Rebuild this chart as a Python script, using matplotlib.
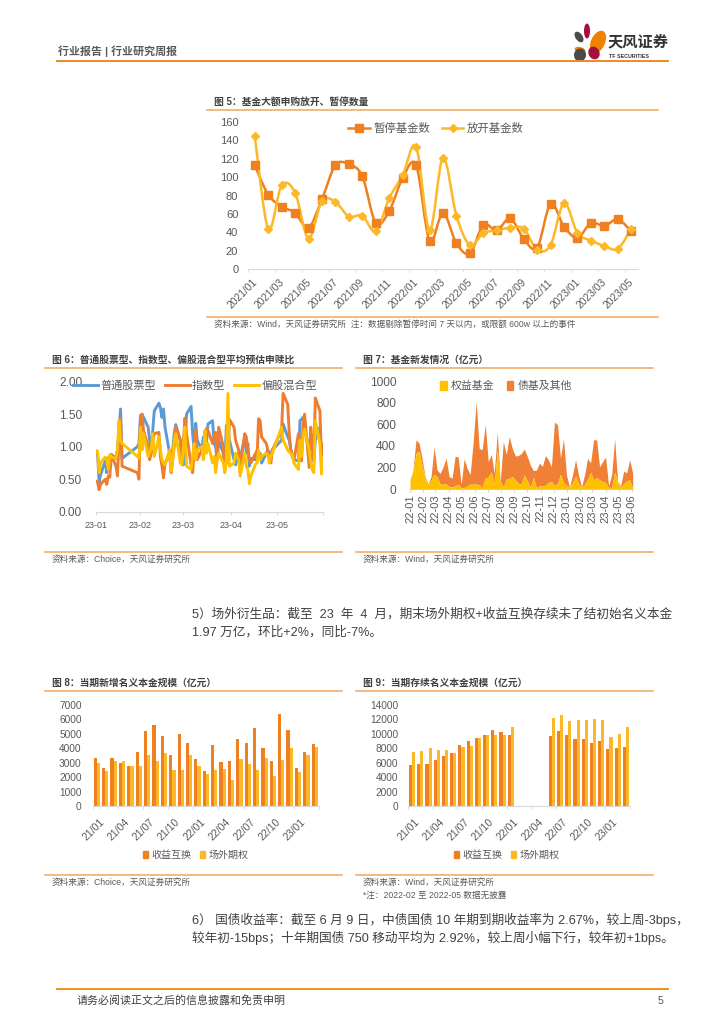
#!/usr/bin/env python3
"""Rebuild the report page with fund issuance and OTC derivative charts."""

import matplotlib
matplotlib.use('Agg')
import matplotlib.pyplot as plt
import numpy as np
import pandas as pd
from matplotlib.lines import Line2D
from matplotlib.patches import Ellipse, PathPatch, Rectangle
from matplotlib.path import Path

plt.rcParams['font.family'] = ['Liberation Sans', 'Noto Sans CJK SC', 'DejaVu Sans']

W, H = 724, 1024
GREY = '#595959'
RULE = '#F5A45D'
AXIS = '#D9D9D9'
ORANGE = '#F0801F'
AMBER = '#FDB827'

# Chart 5: monthly fund counts
months_5 = [f'{y}/{m:02d}' for y in (2021, 2022) for m in range(1, 13)] + [f'2023/{m:02d}' for m in range(1, 6)]
paused = [113, 81, 68, 61, 45, 76, 113, 114, 101, 50, 63, 99, 113, 31, 61, 28, 17, 48, 42, 55, 33, 23, 71, 46, 34, 50, 47, 54, 41]
reopened = [145, 44, 91, 83, 33, 74, 73, 57, 58, 41, 77, 102, 133, 42, 121, 58, 26, 39, 42, 45, 44, 21, 26, 72, 39, 31, 25, 22, 44]

# Chart 6: subscription/redemption ratio on trading days of 2023
days_6 = {
    1: [3, 4, 5, 6, 9, 10, 11, 12, 13, 16, 17, 18, 19, 20, 30, 31],
    2: [1, 2, 3, 6, 7, 8, 9, 10, 13, 14, 15, 16, 17, 20, 21, 22, 23, 24, 27, 28],
    3: [1, 2, 3, 6, 7, 8, 9, 10, 13, 14, 15, 16, 17, 20, 21, 22, 23, 24, 27, 28, 29, 30, 31],
    4: [3, 4, 6, 7, 10, 11, 12, 13, 14, 17, 18, 19, 20, 21, 24, 25, 26, 27, 28],
    5: [4, 5, 8, 9, 10, 11, 12, 15, 16, 17, 18, 19, 22, 23, 24, 25, 26, 29, 30, 31],
}
stock_ratio = [.88, .92, .45, .57, .78, .60, .83, .80, .88, .82, .95, 1.25, 1.58, .82, 1.00, 1.05,
               1.48, 1.50, 1.45, 1.30, 1.10, .90, 1.25, 1.55, 1.67, 1.60, 1.45, 1.58, 1.30, .90, .80, .95, 1.20, 1.34, 1.10, .85,
               .72, 1.00, 1.50, 1.62, 1.20, .95, 1.36, 1.10, .95, 1.15, 1.10, 1.05, 1.35, 1.40, 1.05, 1.00, .80, 1.10, .90, .70, 1.33, 1.25, 1.10,
               .80, .72, .90, .82, 1.15, .90, 1.05, .70, .82, .80, .95, .85, .90, .75, .90, .95, .85, .90, .95,
               1.10, 1.35, 1.15, 1.10, .95, .85, .80, .78, 1.40, 1.42, 1.45, 1.25, 1.00, .85, .80, .78, 1.10, 1.30, .90, .88]
index_ratio = [.47, .46, .34, .42, .50, .42, .55, .53, .88, .70, .55, 1.10, 1.44, .70, .60, .50,
               1.45, 1.50, 1.25, 1.00, .80, .90, 1.10, 1.20, 1.22, .85, .70, .52, .75, .88, .60, .80, 1.00, 1.30, 1.10, .75,
               1.10, 1.44, 1.20, .72, .60, .90, 1.25, .80, .95, 1.00, .90, 1.28, 1.25, 1.05, 1.15, 1.22, .80, 1.30, 1.00, .65, 1.00, .75, 1.42,
               1.30, 1.10, .95, .70, 1.20, 1.15, .95, .80, .75, .90, .80, 1.43, 1.40, 1.15, 1.05, .95, .85, .75, .95,
               1.25, 1.82, 1.65, 1.20, .95, .88, .78, 1.20, 1.10, .78, 1.35, 1.50, .68, 1.30, 1.05, .80, 1.75, 1.55, .80, 1.03]
mixed_ratio = [.94, .93, .60, .75, .84, .80, .65, .88, .84, .82, .95, 1.40, 1.10, 1.05, .85, .82,
               1.30, .95, 1.20, .85, .90, 1.00, 1.20, .85, 1.15, .95, .80, .75, .72, .95, .62, .80, 1.10, 1.20, .75, .72,
               1.00, 1.30, .70, .65, .85, 1.05, .80, .95, 1.00, .80, 1.25, .90, 1.05, .75, .85, .60, .80, .90, .75, .60, .80, 1.82, .70,
               .75, .90, .80, .55, .90, .70, .65, .43, .55, .73, .75, .95, .80, .85, .90, .88, .75, .85, .90,
               1.30, 1.10, .95, .92, .90, .88, .75, .65, 1.10, .85, 1.15, 1.27, .95, .75, .65, .60, 1.40, 1.05, .58, .84]
ticks_6 = ['2023-01-03', '2023-02-01', '2023-03-01', '2023-04-01', '2023-05-01', '2023-05-31']
labels_6 = ['23-01', '23-02', '23-03', '23-04', '23-05', '']

# Chart 7: weekly issuance, equity funds and the stacked total
equity_issue = [85, 160, 330, 350, 220, 100, 45, 85, 135, 115,
                45, 45, 50, 20, 20, 30, 45, 10, 15, 30,
                45, 45, 45, 40, 15, 105, 110, 160, 50, 360,
                70, 20, 90, 100, 115, 85, 50, 50, 130, 75,
                15, 110, 10, 30, 30, 35, 60, 70, 35, 50,
                135, 60, 35, 15, 60, 120, 50, 15, 40, 90,
                155, 85, 105, 85, 70, 60, 15, 15, 155, 70,
                15, 50, 75, 85, 5]
total_issue = [85, 175, 455, 425, 285, 115, 50, 115, 390, 175,
               145, 205, 285, 115, 100, 305, 295, 45, 280, 190,
               135, 440, 810, 375, 365, 600, 255, 320, 145, 525,
               70, 440, 320, 485, 375, 305, 310, 330, 370, 300,
               220, 170, 175, 240, 210, 310, 270, 205, 620, 595,
               285, 465, 130, 15, 130, 270, 130, 20, 130, 285,
               240, 455, 455, 205, 255, 295, 30, 130, 465, 70,
               30, 165, 150, 270, 145]
labels_7 = [f'22-{m:02d}' for m in range(1, 13)] + [f'23-{m:02d}' for m in range(1, 7)]

# Charts 8 and 9: monthly notional
months_8 = [f'{y}/{m:02d}' for y in (21, 22) for m in range(1, 13)] + ['23/01', '23/02', '23/03']
new_swap = [3300, 2650, 3330, 3000, 2780, 3760, 5230, 5600, 4850, 3550, 5020, 4350, 3250, 2450, 4230, 3020, 3100, 4620, 4400, 5400, 4050, 3130, 6350, 5250, 2600, 3720, 4300]
new_option = [3000, 2400, 3100, 3100, 2800, 2780, 3550, 3100, 3680, 2480, 2470, 3520, 2800, 2220, 2500, 2590, 1800, 3230, 2900, 2480, 3350, 2080, 3200, 4020, 2350, 3550, 4080]
live_swap = [5650, 5800, 5800, 6400, 6950, 7350, 8400, 9050, 9450, 9800, 10550, 10250, 9800, np.nan, np.nan, np.nan, np.nan, 9750, 10400, 9850, 9300, 9300, 8800, 8950, 7900, 8000, 8200]
live_option = [7450, 7600, 8050, 7750, 7750, 7350, 8150, 8300, 9450, 9800, 9850, 9850, 10950, np.nan, np.nan, np.nan, np.nan, 12200, 12600, 11800, 11950, 11950, 12100, 11900, 9600, 9950, 11000]


def px_axes(fig, left, top, right, bottom, y_pad):
    # axes placed by page pixels
    ax = fig.add_axes([left / W, 1 - bottom / H, (right - left) / W, (bottom - top) / H])
    ax.patch.set_alpha(0)
    for side in ('top', 'right', 'left'):
        ax.spines[side].set_visible(False)
    ax.spines['bottom'].set_color(AXIS)
    ax.tick_params(axis='y', length=0, colors=GREY, pad=y_pad)
    ax.tick_params(axis='x', color=AXIS, colors=GREY)
    return ax


def smooth_line(ax, xs, ys, color, lw):
    # Catmull-Rom through the points, like a spreadsheet smoothed line
    pts = np.column_stack([xs, ys]).astype(float)
    verts, codes = [pts[0]], [Path.MOVETO]
    for i in range(len(pts) - 1):
        before = pts[max(i - 1, 0)]
        after = pts[min(i + 2, len(pts) - 1)]
        verts += [pts[i] + (pts[i + 1] - before) / 6, pts[i + 1] - (after - pts[i]) / 6, pts[i + 1]]
        codes += [Path.CURVE4] * 3
    ax.add_patch(PathPatch(Path(verts, codes), fill=False, edgecolor=color, lw=lw, capstyle='round', zorder=2))


def panel(page, x0, x1, title, title_x, top_y, bottom_y, notes):
    page.text(title_x, top_y - 8, title, fontsize=7.05, color='#404040', fontweight='bold', va='center')
    page.plot([x0, x1], [top_y, top_y], color=RULE, lw=1.1)
    page.plot([x0, x1], [bottom_y, bottom_y], color=RULE, lw=1.1)
    for i, note in enumerate(notes):
        page.text(title_x, bottom_y + 7 + i * 13, note, fontsize=6.2, color=GREY, va='center')


def page_legend(ax, handles, labels, x, y, size, **kw):
    ax.legend(handles, labels, loc='center', bbox_to_anchor=(x / W, 1 - y / H), bbox_transform=ax.figure.transFigure,
              ncol=len(handles), frameon=False, fontsize=size, labelcolor=GREY, borderpad=0, **kw)


def bar_chart(fig, box, swap, option, y_max, y_step, legend_x, y_pad):
    ax = px_axes(fig, *box, y_pad)
    x = np.arange(len(months_8))
    ax.bar(x - 0.19, swap, width=0.38, color=ORANGE)
    ax.bar(x + 0.19, option, width=0.38, color=AMBER)
    ax.set_xlim(-0.5, len(x) - 0.5)
    ax.set_ylim(0, y_max)
    ax.set_yticks(np.arange(0, y_max + 1, y_step))
    ax.tick_params(axis='y', labelsize=7.3)
    ax.set_xticks(np.arange(-0.5, len(x), 3), minor=True)
    ax.tick_params(axis='x', which='minor', length=2.5, color=AXIS)
    ax.set_xticks(x[1::3] - 0.7)
    ax.set_xticklabels(months_8[0::3], rotation=45, ha='right', rotation_mode='anchor', fontsize=7.5)
    ax.tick_params(axis='x', which='major', length=0, pad=7.5)
    handles = [Rectangle((0, 0), 1, 1, color=ORANGE), Rectangle((0, 0), 1, 1, color=AMBER)]
    page_legend(ax, handles, ['收益互换', '场外期权'], legend_x, 855, 7.2,
                handlelength=0.5, handleheight=0.8, handletextpad=0.35, columnspacing=0.85)
    return ax


def draw_page():
    fig = plt.figure(figsize=(W / 100, H / 100), dpi=100, facecolor='white')
    page = fig.add_axes([0, 0, 1, 1])
    page.set_xlim(0, W)
    page.set_ylim(H, 0)
    page.axis('off')

    # header and logo
    page.text(58, 51, '行业报告 | 行业研究周报', fontsize=7.9, color=GREY, va='center', fontweight='bold')
    page.plot([57, 668], [61, 61], color='#F08A24', lw=1.4)
    petals = [(587, 31, 6, 15, 0, '#A50F3C'), (598, 42, 14, 24, 25, '#EF8200'), (579, 37, 7, 12, -35, '#4A4A4A'),
              (580, 50, 11, 6, 15, '#EF8200'), (594, 53, 11, 13, -25, '#A50F3C'), (580, 55, 12, 13, 10, '#4A4A4A')]
    for cx, cy, w, h, angle, color in petals:
        page.add_patch(Ellipse((cx, cy), w, h, angle=angle, color=color, lw=0))
    page.text(608, 42.5, '天风证券', fontsize=11, color='#333333', va='center', fontweight='bold')
    page.text(609, 56, 'TF SECURITIES', fontsize=3.8, color='#333333', va='center', fontweight='bold')

    # chart 5
    panel(page, 207, 658, '图 5：基金大额申购放开、暂停数量', 214, 110, 317,
          ['资料来源：Wind，天风证券研究所  注：数据剔除暂停时间 7 天以内，或限额 600w 以上的事件'])
    ax5 = px_axes(fig, 248, 122, 638, 269, 7)
    x5 = np.arange(len(months_5))
    smooth_line(ax5, x5, paused, ORANGE, 1.8)
    smooth_line(ax5, x5, reopened, AMBER, 1.8)
    ax5.plot(x5, paused, ls='none', marker='s', ms=5.2, color=ORANGE, zorder=3)
    ax5.plot(x5, reopened, ls='none', marker='D', ms=4.2, color=AMBER, zorder=4)
    ax5.set_xlim(-0.5, len(x5) - 0.5)
    ax5.set_ylim(0, 160)
    ax5.set_yticks(range(0, 161, 20))
    ax5.tick_params(axis='y', labelsize=8)
    ax5.set_xticks(np.arange(-0.5, len(x5), 2), minor=True)
    ax5.tick_params(axis='x', which='minor', length=2.5, color=AXIS)
    ax5.set_xticks(x5[::2] - 0.2)
    ax5.set_xticklabels(months_5[::2], rotation=45, ha='right', rotation_mode='anchor', fontsize=7.4)
    ax5.tick_params(axis='x', which='major', length=0, pad=6)
    page_legend(ax5, [Line2D([], [], color=ORANGE, lw=1.8, marker='s', ms=5.2),
                      Line2D([], [], color=AMBER, lw=1.8, marker='D', ms=4.2)],
                ['暂停基金数', '放开基金数'], 436, 128, 8.2,
                handlelength=1.9, handletextpad=0.3, columnspacing=1.0)

    # chart 6
    panel(page, 45, 342, '图 6：普通股票型、指数型、偏股混合型平均预估申赎比', 52, 368, 552, ['资料来源：Choice，天风证券研究所'])
    ax6 = px_axes(fig, 96, 381.7, 323, 511.7, 10)
    dates_6 = pd.to_datetime([f'2023-{m:02d}-{d:02d}' for m, days in days_6.items() for d in days])
    ax6.plot(dates_6, stock_ratio, color='#5B9BD5', lw=2.1)
    ax6.plot(dates_6, index_ratio, color='#ED7D31', lw=2.1)
    ax6.plot(dates_6, mixed_ratio, color='#FFC000', lw=2.1)
    ax6.set_xlim(pd.Timestamp(ticks_6[0]), pd.Timestamp(ticks_6[-1]))
    ax6.set_ylim(0, 2)
    ax6.set_yticks([0, .5, 1, 1.5, 2])
    ax6.set_yticklabels(['0.00', '0.50', '1.00', '1.50', '2.00'], fontsize=8.6)
    ax6.set_xticks(pd.to_datetime(ticks_6))
    ax6.set_xticklabels(labels_6, fontsize=6.5)
    ax6.tick_params(axis='x', length=2.5, pad=4)
    page_legend(ax6, [Line2D([], [], color=c, lw=2.1) for c in ('#5B9BD5', '#ED7D31', '#FFC000')],
                ['普通股票型', '指数型', '偏股混合型'], 195, 386, 8,
                handlelength=2.25, handletextpad=0.2, columnspacing=0.8)

    # chart 7
    panel(page, 356, 653, '图 7：基金新发情况（亿元）', 363, 368, 552, ['资料来源：Wind，天风证券研究所'])
    ax7 = px_axes(fig, 410, 381, 632.7, 489, 10)
    dates_7 = pd.date_range('2022-01-01', periods=len(total_issue), freq='7D')
    ax7.fill_between(dates_7, 0, equity_issue, color='#FFC000', lw=0, zorder=3)
    ax7.fill_between(dates_7, equity_issue, total_issue, color='#EF8035', lw=0, zorder=2)
    ax7.set_xlim(dates_7[0], dates_7[-1])
    ax7.set_ylim(0, 1000)
    ax7.set_yticks(range(0, 1001, 200))
    ax7.tick_params(axis='y', labelsize=8.6)
    ax7.set_xticks(pd.date_range('2022-01-01', periods=len(labels_7), freq='MS'))
    ax7.set_xticklabels(labels_7, rotation=90, fontsize=8)
    ax7.tick_params(axis='x', length=2, pad=2)
    page_legend(ax7, [Rectangle((0, 0), 1, 1, color='#FFC000'), Rectangle((0, 0), 1, 1, color='#EF8035')],
                ['权益基金', '债基及其他'], 506, 386, 7.8,
                handlelength=0.6, handleheight=0.9, handletextpad=0.4, columnspacing=1.1)

    # text between the rows
    page.text(192, 614.5, '5）场外衍生品：截至  23  年  4  月，期末场外期权+收益互换存续未了结初始名义本金', fontsize=9.1, color='#404040', va='center')
    page.text(192, 632, '1.97 万亿，环比+2%，同比-7%。', fontsize=9.1, color='#404040', va='center')

    # charts 8 and 9
    panel(page, 45, 342, '图 8：当期新增名义本金规模（亿元）', 52, 691, 875, ['资料来源：Choice，天风证券研究所'])
    bar_chart(fig, (92.7, 705, 319, 806), new_swap, new_option, 7000, 1000, 195.5, 8)
    panel(page, 356, 653, '图 9：当期存续名义本金规模（亿元）', 363, 691, 875,
          ['资料来源：Wind，天风证券研究所', '*注：2022-02 至 2022-05 数据无披露'])
    bar_chart(fig, (408, 705, 630, 806), live_swap, live_option, 14000, 2000, 506.5, 7)

    # closing text and footer
    page.text(192, 920, '6） 国债收益率：截至 6 月 9 日，中债国债 10 年期到期收益率为 2.67%，较上周-3bps，', fontsize=9.1, color='#404040', va='center')
    page.text(192, 938, '较年初-15bps；十年期国债 750 移动平均为 2.92%，较上周小幅下行，较年初+1bps。', fontsize=9.1, color='#404040', va='center')
    page.plot([57, 668], [989, 989], color='#F0901E', lw=1.4)
    page.text(77, 1000.5, '请务必阅读正文之后的信息披露和免责申明', fontsize=7.9, color='#404040', va='center')
    page.text(658, 1000.5, '5', fontsize=7.6, color=GREY, va='center')

    fig.savefig('out.png', dpi=100, facecolor='white')
    plt.close(fig)


if __name__ == "__main__":
    draw_page()
